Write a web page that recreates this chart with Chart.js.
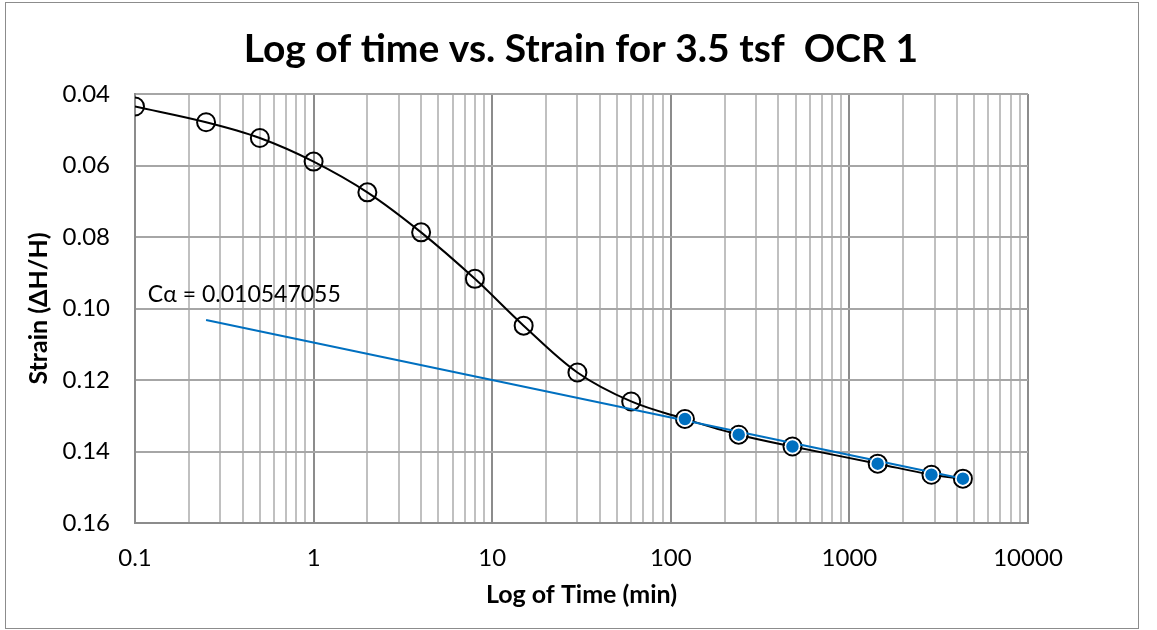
<!DOCTYPE html>
<html>
<head>
<meta charset="utf-8">
<script src="https://cdn.jsdelivr.net/npm/chart.js@4"></script>
<style>
  html, body { margin: 0; padding: 0; background: #fff; }
  #wrap { width: 1157px; height: 630px; }
</style>
</head>
<body>
<div id="wrap"><canvas id="strainChart" width="1157" height="630"></canvas></div>
<script>
// time since load (min) and strain
const timeMin = [0.1, 0.25, 0.5, 1, 2, 4, 8, 15, 30, 60, 120, 240, 480, 1440, 2880, 4320];
const strain = [0.0435, 0.0479, 0.0523, 0.0589, 0.0675, 0.0787, 0.0917, 0.1048, 0.1179, 0.126, 0.1309, 0.1353, 0.1386, 0.1434, 0.1465, 0.1476];

// secondary-compression points (blue) and their trend line
const tailTime = [120, 240, 480, 1440, 2880, 4320];
const tailStrain = [0.1309, 0.1353, 0.1386, 0.1434, 0.1465, 0.1476];
const trendTime = [0.25, 4320];
const trendStrain = [0.1032, 0.1476];

const xTickLabels = ["0.1", "1", "10", "100", "1000", "10000"];
const yTicks = [0.04, 0.06, 0.08, 0.1, 0.12, 0.14, 0.16];

const titleText = "Log of time vs. Strain for 3.5 tsf  OCR 1";
const calphaText = "C\u03b1 = 0.010547055";
const calphaAt = { x: 0.118, y: 0.0961 };

const FONT = "Lato, 'Open Sans', sans-serif";

function toPoints(xs, ys) {
  return xs.map((x, i) => ({ x: x, y: ys[i] }));
}

// log grid: every 1..9 multiple of each decade
const xGrid = [];
for (let d = 0; d < xTickLabels.length; d++) {
  const base = parseFloat(xTickLabels[d]);
  const last = d === xTickLabels.length - 1 ? 1 : 9;
  for (let m = 1; m <= last; m++) xGrid.push(+(base * m).toPrecision(6));
}
const isDecade = (v) => xTickLabels.includes(String(+v.toPrecision(6)));

// outer frame + title centred on the whole canvas (like Excel)
const frame = {
  id: "frame",
  beforeDraw(chart) {
    const ctx = chart.ctx;
    ctx.save();
    ctx.fillStyle = "#fff";
    ctx.fillRect(0, 0, chart.width, chart.height);
    ctx.strokeStyle = "#8c8c8c";
    ctx.lineWidth = 1;
    ctx.strokeRect(5.5, 2.5, 1133, 626);
    ctx.font = "bold 39px " + FONT;
    ctx.fillStyle = "#000";
    ctx.textAlign = "center";
    ctx.textBaseline = "middle";
    ctx.fillText(titleText, 581, 49);
    ctx.restore();
  },
};

const calphaLabel = {
  id: "calphaLabel",
  afterDatasetsDraw(chart) {
    const ctx = chart.ctx;
    const x = chart.scales.x.getPixelForValue(calphaAt.x);
    const y = chart.scales.y.getPixelForValue(calphaAt.y);
    ctx.save();
    ctx.font = "23px " + FONT;
    ctx.fillStyle = "#000";
    ctx.textAlign = "left";
    ctx.textBaseline = "middle";
    ctx.fillText(calphaText, x, y);
    ctx.restore();
  },
};

const ctx = document.getElementById("strainChart").getContext("2d");
new Chart(ctx, {
  type: "line",
  data: {
    datasets: [
      {
        label: "Cα points",
        data: toPoints(tailTime, tailStrain),
        showLine: false,
        pointRadius: 7,
        pointBackgroundColor: "#0070c0",
        pointBorderColor: "#fff",
        pointBorderWidth: 1.5,
        order: 0,
      },
      {
        label: "Trend",
        data: toPoints(trendTime, trendStrain),
        borderColor: "#0070c0",
        borderWidth: 2,
        pointRadius: 0,
        tension: 0,
        order: 1,
      },
      {
        label: "Strain",
        data: toPoints(timeMin, strain),
        borderColor: "#000",
        borderWidth: 2,
        tension: 0.35,
        pointRadius: 9,
        pointBackgroundColor: "rgba(0,0,0,0)",
        pointBorderColor: "#000",
        pointBorderWidth: 2,
        order: 2,
      },
    ],
  },
  options: {
    responsive: false,
    animation: false,
    layout: { padding: { left: 0, right: 129, top: 94, bottom: 0 } },
    plugins: {
      legend: { display: false },
      tooltip: { enabled: false },
      title: { display: false },
    },
    scales: {
      x: {
        type: "logarithmic",
        min: 0.1,
        max: 10000,
        afterFit(scale) { scale.height = 107; },
        afterBuildTicks(scale) { scale.ticks = xGrid.map((v) => ({ value: v })); },
        ticks: {
          autoSkip: false,
          maxRotation: 0,
          padding: 21,
          color: "#000",
          font: { family: FONT, size: 24 },
          callback: (v) => (isDecade(v) ? String(+v.toPrecision(6)) : ""),
        },
        grid: {
          drawTicks: false,
          color: (c) => (isDecade(c.tick.value) ? "#8c8c8c" : "#c0c0c0"),
          lineWidth: 2,
        },
        border: { color: "#8c8c8c", width: 2 },
        title: {
          display: true,
          text: "Log of Time (min)",
          color: "#000",
          font: { family: FONT, size: 25, weight: "bold" },
          padding: { top: 0, bottom: 20 },
        },
      },
      y: {
        type: "linear",
        reverse: true,
        min: 0.04,
        max: 0.16,
        afterFit(scale) { scale.width = 135; },
        afterBuildTicks(scale) { scale.ticks = yTicks.map((v) => ({ value: v })); },
        ticks: {
          padding: 25,
          color: "#000",
          font: { family: FONT, size: 24 },
          callback: (v) => v.toFixed(2),
        },
        grid: { drawTicks: false, color: "#a6a6a6", lineWidth: 2 },
        border: { color: "#8c8c8c", width: 2 },
        title: {
          display: true,
          text: "Strain (ΔH/H)",
          color: "#000",
          font: { family: FONT, size: 25, weight: "bold" },
          padding: { top: 24, bottom: 0 },
        },
      },
    },
  },
  plugins: [frame, calphaLabel],
});
</script>
</body>
</html>
